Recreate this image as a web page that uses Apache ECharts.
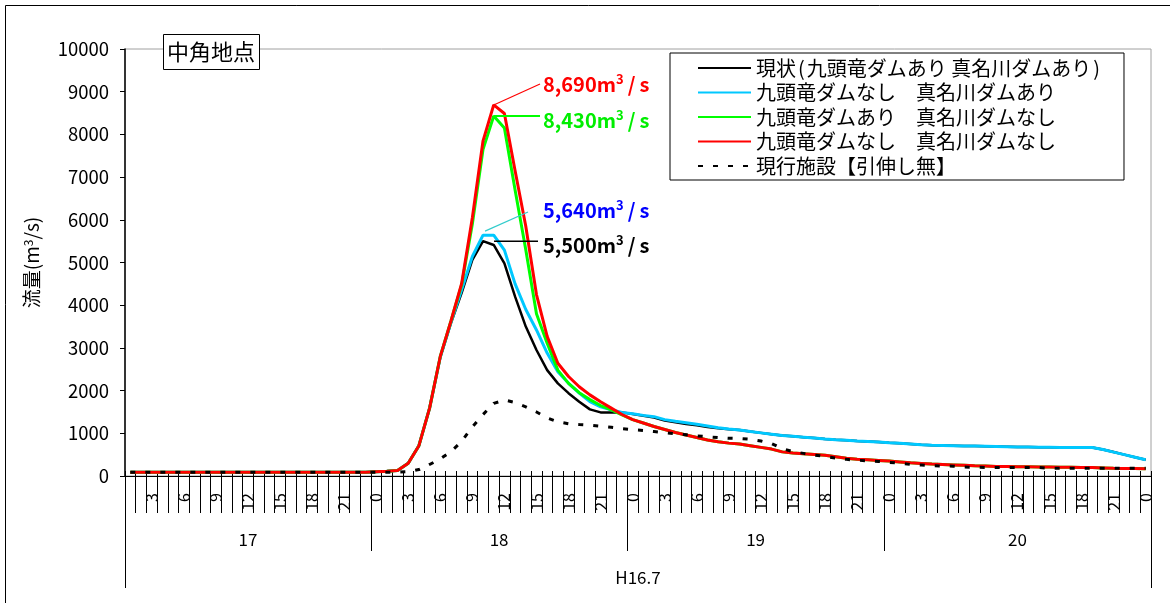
<!DOCTYPE html>
<html>
<head>
<meta charset="utf-8">
<script src="https://cdn.jsdelivr.net/npm/echarts@6/dist/echarts.min.js"></script>
<style>
  html, body { margin: 0; padding: 0; background: #fff; }
  #chart { width: 1170px; height: 603px; }
</style>
</head>
<body>
<div id="chart"></div>
<script>
// Hour of each hourly record: 17th 1:00 ... 20th 23:00, then 21st 0:00
const hours = [
  1,2,3,4,5,6,7,8,9,10,11,12,13,14,15,16,17,18,19,20,21,22,23,
  0,1,2,3,4,5,6,7,8,9,10,11,12,13,14,15,16,17,18,19,20,21,22,23,
  0,1,2,3,4,5,6,7,8,9,10,11,12,13,14,15,16,17,18,19,20,21,22,23,
  0,1,2,3,4,5,6,7,8,9,10,11,12,13,14,15,16,17,18,19,20,21,22,23,
  0
];
// Day groups along the time axis (boundaries are record counts)
const dayLabels = ['17', '18', '19', '20'];
const dayBounds = [0, 23, 47, 71, 96];
const periodLabel = 'H16.7';

const yTicks = { min: 0, max: 10000, step: 1000 };

const seriesNames = [
  '現状(九頭竜ダムあり 真名川ダムあり)',
  '九頭竜ダムなし　真名川ダムあり',
  '九頭竜ダムあり　真名川ダムなし',
  '九頭竜ダムなし　真名川ダムなし',
  '現行施設【引伸し無】'
];

// Discharge (m3/s)
const flowCurrent = [
  90,90,90,90,90,90,90,90,90,90,90,90,90,90,90,90,90,90,90,90,90,90,90,
  100,110,130,300,710,1590,
  2780,3580,4290,5060,5500,5410,4980,4200,3500,2950,2480,2170,1940,1740,1560,1490,1490,1490,
  1450,1410,1370,1300,1260,1220,1190,1150,1120,1095,
  1077,1040,1010,980,950,930,910,890,865,848,835,820,808,795,780,766,750,730,720,715,
  710,700,700,695,690,685,680,680,675,675,670,670,670,668,620,560,500,440,380
];
const flowNoKuzuryu = [
  90,90,90,90,90,90,90,90,90,90,90,90,90,90,90,90,90,90,90,90,90,90,90,
  100,110,130,300,710,1590,
  2780,3600,4360,5140,5640,5640,5290,4500,3900,3420,2880,2440,2170,1940,1740,1620,1550,1490,
  1460,1420,1390,1320,1280,1245,1210,1170,1130,1100,
  1077,1040,1010,980,950,930,910,890,865,848,835,820,808,795,780,766,750,730,720,715,
  710,700,700,695,690,685,680,680,675,675,670,670,670,668,620,560,500,440,380
];
const flowNoManagawa = [
  90,90,90,90,90,90,90,90,90,90,90,90,90,90,90,90,90,90,90,90,90,90,90,
  100,110,130,300,710,1590,2800,3630,
  4480,5900,7650,8430,8150,6700,5300,3800,3110,2480,2170,1950,1790,1650,1550,1430,
  1320,1240,1160,1090,1020,960,900,845,800,770,750,710,670,630,565,540,520,505,485,450,
  415,395,380,365,350,330,310,295,280,270,260,250,240,235,225,220,215,215,210,210,
  205,205,200,200,190,180,175,175,170
];
const flowNoDams = [
  90,90,90,90,90,90,90,90,90,90,90,90,90,90,90,90,90,90,90,90,90,90,90,
  100,110,130,300,710,1590,2800,3630,
  4510,6050,7850,8690,8490,7150,5850,4250,3270,2640,2330,2090,1900,1740,1590,1440,
  1320,1240,1160,1090,1020,960,900,845,800,770,750,710,670,630,565,540,520,505,485,450,
  415,395,380,365,350,330,310,295,280,270,260,250,240,235,225,220,215,215,210,210,
  205,205,200,200,190,180,175,175,170
];
const flowExisting = [
  90,90,90,90,90,90,90,90,90,90,90,90,90,90,90,90,90,90,90,90,90,90,90,90,90,90,
  100,150,270,400,570,810,1150,1440,1700,1780,1720,1620,1500,1360,1270,1225,1205,1190,1165,1140,1110,
  1085,1065,1040,1015,
  990,965,940,920,900,885,880,860,820,760,640,570,530,490,460,420,390,370,355,340,
  320,300,270,255,240,235,230,210,205,200,200,200,200,200,200,
  180,180,180,180,180,180,180,180,180,180
];

const FONT = '"Noto Sans CJK JP", "Noto Sans", sans-serif';
const chart = echarts.init(document.getElementById('chart'), null, { renderer: 'canvas' });

const dayMids = dayLabels.map((d, k) => (dayBounds[k] + dayBounds[k + 1]) / 2);

function lineSeries(name, data, color, width, type, z) {
  return {
    name, type: 'line', data, xAxisIndex: 0, yAxisIndex: 0,
    showSymbol: false, symbol: 'none', z,
    lineStyle: { color, width, type },
    itemStyle: { color },
    emphasis: { disabled: true }
  };
}

const option = {
  animation: false,
  backgroundColor: '#fff',
  textStyle: { fontFamily: FONT },
  grid: {
    left: 125, right: 19, top: 49, bottom: 127,
    show: true, borderColor: '#a0a0a0', borderWidth: 1, backgroundColor: 'transparent'
  },
  legend: {
    orient: 'vertical', left: 670, top: 53,
    itemWidth: 53, itemHeight: 14, itemGap: 4.5,
    padding: [5, 22, 4, 27],
    borderColor: '#000', borderWidth: 1, backgroundColor: '#fff',
    itemStyle: { opacity: 0 },
    // parentheses get a little breathing room, as in the wide gothic face
    formatter: name => name.replace('(', '{p|(}').replace(')', '{p|)}'),
    textStyle: {
      fontFamily: FONT, fontSize: 20, color: '#000', lineHeight: 20,
      rich: { p: { fontFamily: FONT, fontSize: 20, color: '#000', lineHeight: 20, padding: [0, 2, 0, 2] } }
    },
    data: seriesNames
  },
  xAxis: [
    {
      type: 'category', position: 'bottom', data: hours.map(String), boundaryGap: true,
      axisLine: { show: true, lineStyle: { color: '#000', width: 1 } },
      axisTick: { show: true, interval: 0, length: 37, lineStyle: { color: '#000', width: 1 } },
      axisLabel: {
        interval: (i, v) => Number(v) % 3 === 0,
        rotate: 90, margin: 17, fontSize: 16, color: '#000', fontFamily: FONT
      },
      splitLine: { show: false }
    },
    {
      type: 'value', position: 'bottom', min: 0, max: 96,
      axisLine: { show: false },
      axisTick: { show: true, customValues: dayBounds, length: 75, lineStyle: { color: '#000', width: 1 } },
      axisLabel: {
        show: true, customValues: dayMids, margin: 55, fontSize: 17, color: '#000', fontFamily: FONT,
        formatter: v => dayLabels[dayMids.indexOf(v)] || ''
      },
      splitLine: { show: false }
    },
    {
      type: 'value', position: 'bottom', min: 0, max: 96,
      axisLine: { show: false },
      axisTick: { show: true, customValues: [0, 96], length: 112, lineStyle: { color: '#000', width: 1 } },
      axisLabel: {
        show: true, customValues: [48], margin: 93, fontSize: 17, color: '#000', fontFamily: FONT,
        formatter: () => periodLabel
      },
      splitLine: { show: false }
    },
    {
      type: 'category', position: 'bottom', data: hours.map(String), boundaryGap: true,
      axisLine: { show: false },
      axisTick: { show: true, inside: true, interval: 0, length: 5, lineStyle: { color: '#000', width: 1 } },
      axisLabel: { show: false },
      splitLine: { show: false }
    }
  ],
  yAxis: {
    type: 'value', min: yTicks.min, max: yTicks.max, interval: yTicks.step,
    axisLine: { show: true, lineStyle: { color: '#000', width: 1.5 } },
    axisTick: { show: true, length: 5, lineStyle: { color: '#000', width: 1 } },
    axisLabel: { margin: 16, fontSize: 18.5, color: '#000', fontFamily: FONT, formatter: v => String(v) },
    splitLine: { show: false },
    name: '{a|流量(m}{s|3}{a|/s)}',
    nameLocation: 'middle', nameRotate: 90, nameGap: 84,
    nameTextStyle: {
      rich: {
        a: { fontSize: 19, fontFamily: FONT, color: '#000' },
        s: { fontSize: 12, fontFamily: FONT, color: '#000', verticalAlign: 'top' }
      }
    }
  },
  series: [
    lineSeries(seriesNames[0], flowCurrent, '#000000', 2.5, 'solid', 2),
    lineSeries(seriesNames[1], flowNoKuzuryu, '#00c8ff', 3, 'solid', 3),
    lineSeries(seriesNames[2], flowNoManagawa, '#00ff00', 3, 'solid', 4),
    lineSeries(seriesNames[3], flowNoDams, '#ff0000', 3, 'solid', 5),
    lineSeries(seriesNames[4], flowExisting, '#000000', 3, [5, 10], 6)
  ]
};

chart.setOption(option);

// Peak annotations: leader line from each series' peak to its value label
function fmt(v) { return String(v).replace(/\B(?=(\d{3})+(?!\d))/g, ','); }
function peakOf(arr) {
  let idx = 0;
  arr.forEach((v, i) => { if (v > arr[idx]) idx = i; });
  return { idx, value: arr[idx] };
}

const notes = [
  { data: flowNoDams, series: 3, textColor: '#ff0000', lineColor: '#ff0000', lineWidth: 1.2,
    start: [0, 0], end: [540, 84], textY: 84 },
  { data: flowNoManagawa, series: 2, textColor: '#00ee00', lineColor: '#00ff00', lineWidth: 2,
    start: [0, 0], end: [540, null], textY: 120 },
  { data: flowNoKuzuryu, series: 1, textColor: '#0000ff', lineColor: '#33cccc', lineWidth: 1.2,
    start: [2, -4], end: [528, 212], textY: 210 },
  { data: flowCurrent, series: 0, textColor: '#000000', lineColor: '#000000', lineWidth: 1.5,
    start: [11, 0], end: [538, null], textY: 245 }
];

const graphics = [
  {
    type: 'rect', silent: true, z: 0,
    shape: { x: 5.5, y: 5.5, width: 1200, height: 700 },
    style: { fill: null, stroke: '#000', lineWidth: 1 }
  },
  {
    type: 'rect', silent: true, z: 50,
    shape: { x: 163.5, y: 34.5, width: 96, height: 35 },
    style: { fill: '#fff', stroke: '#000', lineWidth: 1 }
  },
  {
    type: 'text', silent: true, z: 51, x: 211, y: 52,
    style: { text: '中角地点', font: '22px ' + FONT, fill: '#000', align: 'center', verticalAlign: 'middle' }
  }
];

notes.forEach(n => {
  const pk = peakOf(n.data);
  const p = chart.convertToPixel({ seriesIndex: n.series }, [pk.idx, pk.value]);
  const sx = p[0] + n.start[0], sy = p[1] + n.start[1];
  const ex = n.end[0], ey = n.end[1] == null ? sy : n.end[1];
  graphics.push({
    type: 'line', silent: true, z: 40,
    shape: { x1: sx, y1: sy, x2: ex, y2: ey },
    style: { stroke: n.lineColor, lineWidth: n.lineWidth }
  });
  graphics.push({
    type: 'text', silent: true, z: 41, x: 543, y: n.textY,
    style: {
      text: '{a|' + fmt(pk.value) + 'm}{s|3}{b|/}{a|s}',
      verticalAlign: 'middle', align: 'left',
      rich: {
        a: { fontSize: 20, fontWeight: 'bold', fontFamily: FONT, fill: n.textColor, lineHeight: 22 },
        s: { fontSize: 13, fontWeight: 'bold', fontFamily: FONT, fill: n.textColor, verticalAlign: 'top', lineHeight: 14 },
        b: { fontSize: 20, fontWeight: 'bold', fontFamily: FONT, fill: n.textColor, padding: [0, 4, 0, 4], lineHeight: 22 }
      }
    }
  });
});

chart.setOption({ graphic: graphics });
</script>
</body>
</html>
